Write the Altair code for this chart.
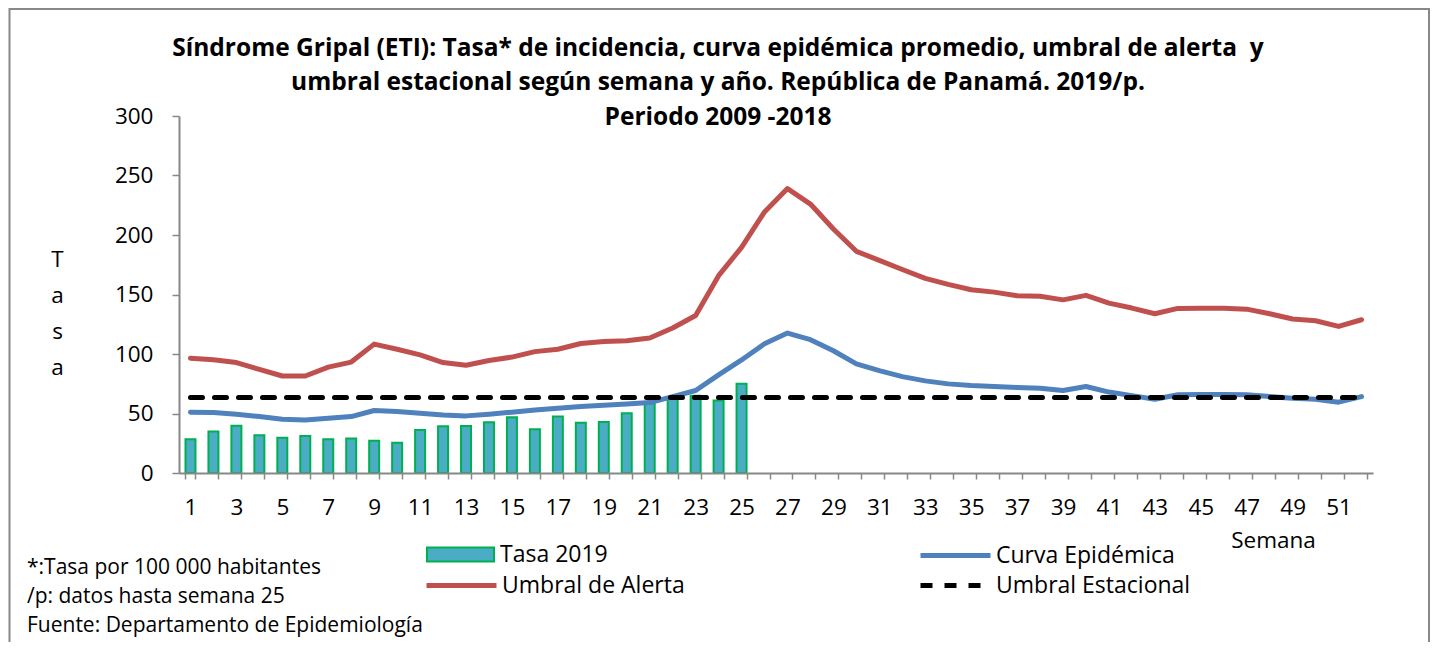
import altair as alt
import pandas as pd

# ---------------- data ----------------
semanas = list(range(1, 53))
semanas_2019 = list(range(1, 26))

tasa_2019 = [28.4, 34.8, 39.8, 31.7, 29.7, 31.1, 28.4, 28.9, 27.2, 25.5,
             36.2, 39.3, 39.6, 42.7, 46.9, 36.8, 47.4, 42.3, 42.9, 50.2,
             58.7, 63.0, 65.0, 60.9, 74.9]

curva_epidemica = [51.1, 50.8, 49.4, 47.4, 45.2, 44.6, 46.0, 47.4, 52.5, 51.6,
                   50.2, 48.8, 48.0, 49.4, 51.1, 53.0, 54.4, 55.8, 57.0, 58.0,
                   59.2, 64.2, 69.3, 82.5, 95.0, 108.6, 117.6, 112.0, 102.7, 91.7,
                   86.0, 81.0, 77.4, 74.9, 73.5, 72.7, 71.8, 71.3, 69.3, 72.7,
                   68.0, 65.0, 62.0, 65.7, 65.9, 65.9, 65.7, 64.2, 62.9, 62.0,
                   59.5, 64.2]

umbral_alerta = [96.5, 95.1, 92.8, 87.0, 81.5, 81.5, 89.0, 93.2, 108.3, 104.0,
                 99.3, 92.8, 90.5, 94.5, 97.4, 102.0, 104.0, 108.8, 110.5, 111.1,
                 113.4, 121.8, 132.4, 165.8, 189.6, 219.4, 239.0, 226.0, 205.0, 186.3,
                 178.7, 171.0, 163.5, 158.5, 154.0, 152.0, 149.0, 148.5, 145.5, 149.3,
                 142.8, 138.6, 133.8, 138.3, 138.5, 138.5, 137.7, 133.8, 129.4, 127.9,
                 123.2, 128.8]

umbral_estacional = [63.4, 63.4, 63.4, 63.4, 63.4, 63.4, 63.4, 63.4, 63.4, 63.4,
                     63.4, 63.4, 63.4, 63.4, 63.4, 63.4, 63.4, 63.4, 63.4, 63.4,
                     63.4, 63.4, 63.4, 63.4, 63.4, 63.4, 63.4, 63.4, 63.4, 63.4,
                     63.4, 63.4, 63.4, 63.4, 63.4, 63.4, 63.4, 63.4, 63.4, 63.4,
                     63.4, 63.4, 63.4, 63.4, 63.4, 63.4, 63.4, 63.4, 63.4, 63.4,
                     63.4, 63.4]

series = ["Tasa 2019", "Curva Epidémica", "Umbral de Alerta", "Umbral Estacional"]
colores = ["#4BACC6", "#4F81BD", "#C0504D", "#000000"]

y_ticks = [0, 50, 100, 150, 200, 250, 300]

titulo = ["Síndrome Gripal (ETI): Tasa* de incidencia, curva epidémica promedio, umbral de alerta\u00a0 y",
          "umbral estacional según semana y año. República de Panamá. 2019/p.",
          "Periodo 2009 -2018"]
eje_y_titulo = ["T", "a", "s", "a"]
eje_x_titulo = "Semana"
notas = ["*:Tasa por 100 000 habitantes",
         "/p: datos hasta semana 25",
         "Fuente: Departamento de Epidemiología"]

# ---------------- tables ----------------
df_barras = pd.DataFrame({"semana": semanas_2019, "valor": tasa_2019, "serie": series[0]})
df_curva = pd.DataFrame({"semana": semanas, "valor": curva_epidemica, "serie": series[1]})
df_alerta = pd.DataFrame({"semana": semanas, "valor": umbral_alerta, "serie": series[2]})
df_estac = pd.DataFrame({"semana": semanas, "valor": umbral_estacional, "serie": series[3]})
df_notas = pd.DataFrame({"nota": ["\n".join(notas)]})
df_marco = pd.DataFrame({"k": [0]})

FONT = "Open Sans"
GRIS = "#888888"
FS_EJE = 22.5

W, H = 1194, 357
PAD_L, PAD_T = 171, 108
PAD_R = 1422 - PAD_L - W
PAD_B = 634 - PAD_T - H

x_scale = alt.Scale(paddingInner=0.565, paddingOuter=0.2825)
y_scale = alt.Scale(domain=[0, 300], nice=False, zero=True)

x_axis = alt.Axis(
    title=eje_x_titulo, titleX=1094, titleY=67, titleAlign="center", titleBaseline="middle",
    titleFont=FONT, titleFontSize=FS_EJE, titleFontWeight="normal", titleColor="black",
    labelExpr="datum.value % 2 == 1 ? datum.label : ''", labelAngle=0,
    labelFont=FONT, labelFontSize=FS_EJE, labelColor="black", labelPadding=17, labelOverlap=False,
    labelBaseline="top",
    tickBand="extent", tickSize=6, tickColor=GRIS, tickWidth=1.5,
    domainColor=GRIS, domainWidth=2, grid=False, zindex=1,
)
y_axis = alt.Axis(
    values=y_ticks, title=eje_y_titulo, titleAngle=0, titleX=-122, titleY=143,
    titleAlign="center", titleBaseline="middle", titleLineHeight=36,
    titleFont=FONT, titleFontSize=FS_EJE, titleFontWeight="normal", titleColor="black",
    labelFont=FONT, labelFontSize=FS_EJE, labelColor="black", labelPadding=19,
    tickSize=7, tickColor=GRIS, tickWidth=1.5, domainColor=GRIS, domainWidth=2, grid=False,
    zindex=1,
)

PATH_LINEA = "M-3.5,0L3.5,0"
PATH_CAJA = "M-3.35,-0.7L3.35,-0.7L3.35,0.7L-3.35,0.7Z"


def leyenda(x, y, simbolo, trazo, grosor, guion=None):
    kw = dict(
        title=None, orient="none", legendX=x, legendY=y,
        symbolSize=400, symbolType=simbolo, symbolStrokeColor=trazo, symbolStrokeWidth=grosor,
        symbolOpacity=1,
        labelFont=FONT, labelFontSize=23, labelColor="black", labelLimit=500,
        labelOffset=28, padding=0,
    )
    if guion is not None:
        kw["symbolDash"] = guion
    return alt.Legend(**kw)


def color(i, leg):
    return alt.Color("serie:N", scale=alt.Scale(domain=[series[i]], range=[colores[i]]), legend=leg)


X = alt.X("semana:O", scale=x_scale, axis=x_axis)
Y = alt.Y("valor:Q", scale=y_scale, axis=y_axis)

marco = alt.Chart(df_marco).mark_rect(fill="white", stroke=GRIS, strokeWidth=2).encode(
    x=alt.value(-169.5), x2=alt.value(1250), y=alt.value(-107), y2=alt.value(560)
)

barras = alt.Chart(df_barras).mark_bar(stroke="#00B050", strokeWidth=2, opacity=1).encode(
    x=X, y=Y, color=color(0, leyenda(270, 427, PATH_CAJA, "#00B050", 2))
)


def linea(df, i, leg, **kw):
    return alt.Chart(df).mark_line(strokeWidth=5, strokeCap="round", strokeJoin="round", **kw).encode(
        x=X, y=Y, color=color(i, leg)
    )


l_alerta = linea(df_alerta, 2, leyenda(270, 457, PATH_LINEA, colores[2], 5))
l_curva = linea(df_curva, 1, leyenda(764, 427, PATH_LINEA, colores[1], 5))
l_estac = linea(df_estac, 3, leyenda(764, 457, PATH_LINEA, colores[3], 5, [12, 12]),
                strokeDash=[12, 12])

texto_notas = alt.Chart(df_notas).mark_text(
    align="left", baseline="middle", lineBreak="\n", lineHeight=29,
    font=FONT, fontSize=21, color="black"
).encode(x=alt.value(-152), y=alt.value(452), text="nota:N")

chart = alt.layer(marco, barras, l_alerta, l_curva, l_estac, texto_notas).resolve_scale(
    color="independent"
).properties(
    width=W, height=H,
    padding={"left": PAD_L, "top": PAD_T, "right": PAD_R, "bottom": PAD_B},
    autosize=alt.AutoSizeParams(type="none"),
    background="#FFFFE6",
    title=alt.TitleParams(
        titulo, font=FONT, fontSize=24.5, fontWeight="bold", color="black",
        anchor="middle", frame="group", dx=-58, offset=-122, lineHeight=34.5,
    ),
).configure_view(stroke=None)

chart.save("out.html", embed_options={"renderer": "svg", "actions": False})
